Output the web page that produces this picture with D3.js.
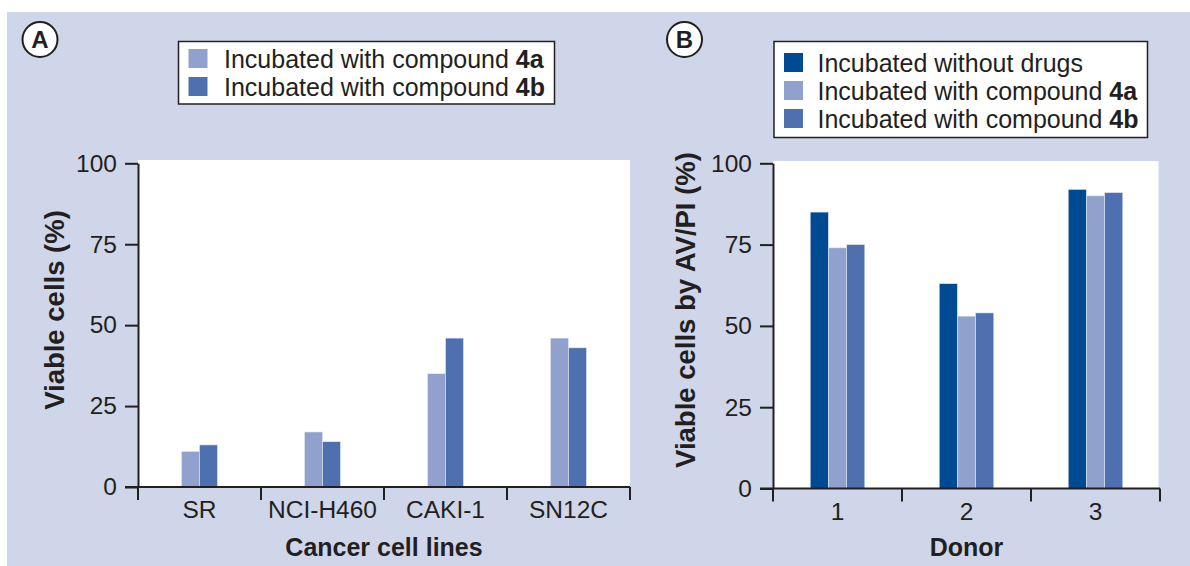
<!DOCTYPE html>
<html>
<head>
<meta charset="utf-8">
<script src="https://cdn.jsdelivr.net/npm/d3@7/dist/d3.min.js"></script>
<style>
  html, body { margin: 0; padding: 0; background: #ffffff; }
  svg { display: block; font-family: "Liberation Sans", Arial, Helvetica, sans-serif; }
</style>
</head>
<body>
<svg id="chart" width="1190" height="566"></svg>
<script>
// ---- Data ----
const cellLines = ["SR", "NCI-H460", "CAKI-1", "SN12C"];
const seriesA = ["4a", "4b"];
const viableA_4a = [11, 17, 35, 46];
const viableA_4b = [13, 14, 46, 43];

const donors = ["1", "2", "3"];
const seriesB = ["none", "4a", "4b"];
const viableB_none = [85, 63, 92];
const viableB_4a = [74, 53, 90];
const viableB_4b = [75, 54, 91];

const yTicks = [0, 25, 50, 75, 100];

const legendA = [
  { key: "4a", prefix: "Incubated with compound ", bold: "4a" },
  { key: "4b", prefix: "Incubated with compound ", bold: "4b" }
];
const legendB = [
  { key: "none", prefix: "Incubated without drugs", bold: "" },
  { key: "4a", prefix: "Incubated with compound ", bold: "4a" },
  { key: "4b", prefix: "Incubated with compound ", bold: "4b" }
];

const colors = { none: "#004a94", "4a": "#8fa1cc", "4b": "#4e70ae" };

// ---- Drawing ----
const svg = d3.select("#chart");
const BG = "#cfd6ea";
const INK = "#231f20";
const FS = 24.5;
const FS_LEG = 25;

svg.append("rect").attr("x", 7).attr("y", 12).attr("width", 1190 - 7).attr("height", 566 - 12).attr("fill", BG);

function panel(opts) {
  const { x0, x1, yBase, yTop, whiteTop, whiteRight, cats, series, values, barW, label, circle, yTitle, xTitle, yTitleX, legend, legendBox } = opts;
  const g = svg.append("g");

  const x = d3.scaleBand().domain(cats).range([x0, x1]).paddingInner(0).paddingOuter(0);
  const bw = x.bandwidth();
  const xs = d3.scaleBand().domain(series).range([bw / 2 - barW * series.length / 2, bw / 2 + barW * series.length / 2]).padding(0);
  const y = d3.scaleLinear().domain([0, 100]).range([yBase, yTop]);

  // white plot area
  g.append("rect").attr("x", x0).attr("y", whiteTop).attr("width", whiteRight - x0).attr("height", yBase - whiteTop).attr("fill", "#ffffff");

  // bars
  const rows = [];
  cats.forEach((c, i) => series.forEach((s, j) => rows.push({ c, s, v: values[j][i] })));
  g.selectAll("rect.bar").data(rows).enter().append("rect")
    .attr("class", "bar")
    .attr("x", d => x(d.c) + xs(d.s) + (opts.groupShift ? opts.groupShift[cats.indexOf(d.c)] : 0))
    .attr("width", xs.bandwidth())
    .attr("y", d => y(d.v))
    .attr("height", d => y(0) - y(d.v))
    .attr("fill", d => colors[d.s])
    .attr("stroke", "#e4e9f4")
    .attr("stroke-width", 0.6);

  // y axis
  const yAxis = d3.axisLeft(y).tickValues(yTicks).tickSize(13).tickPadding(8).tickSizeOuter(0);
  const ya = g.append("g").attr("transform", `translate(${x0},0)`).call(yAxis);
  ya.select(".domain").attr("stroke", INK).attr("stroke-width", 2);
  ya.selectAll(".tick line").attr("stroke", INK).attr("stroke-width", 2);
  ya.selectAll(".tick text").attr("font-size", FS).attr("fill", INK).attr("font-family", "Liberation Sans, Arial, sans-serif");

  // x axis (ticks at band boundaries)
  const xAxisLine = g.append("g");
  xAxisLine.append("line").attr("x1", x0 - 13).attr("x2", x1).attr("y1", yBase).attr("y2", yBase).attr("stroke", INK).attr("stroke-width", 2);
  const bounds = cats.map(c => x(c)).concat([x1]);
  xAxisLine.selectAll("line.bt").data(bounds).enter().append("line")
    .attr("class", "bt")
    .attr("x1", d => d).attr("x2", d => d)
    .attr("y1", yBase).attr("y2", yBase + 13)
    .attr("stroke", INK).attr("stroke-width", 2);
  xAxisLine.selectAll("text.cl").data(cats).enter().append("text")
    .attr("class", "cl")
    .attr("x", d => x(d) + bw / 2)
    .attr("y", yBase + 31)
    .attr("text-anchor", "middle")
    .attr("font-size", FS).attr("fill", INK)
    .text(d => d);

  // titles
  g.append("text").attr("x", (x0 + x1) / 2).attr("y", 556).attr("text-anchor", "middle")
    .attr("font-size", 25).attr("font-weight", "bold").attr("fill", INK).text(xTitle);
  g.append("text").attr("transform", `translate(${yTitleX},310) rotate(-90)`)
    .attr("text-anchor", "middle").attr("font-size", 27.5).attr("font-weight", "bold").attr("fill", INK).text(yTitle);

  // panel label circle
  g.append("circle").attr("cx", circle[0]).attr("cy", circle[1]).attr("r", 17.5)
    .attr("fill", "#ffffff").attr("stroke", INK).attr("stroke-width", 2);
  g.append("text").attr("x", circle[0]).attr("y", circle[1] + 8.5).attr("text-anchor", "middle")
    .attr("font-size", 24).attr("font-weight", "bold").attr("fill", INK).text(label);

  // legend
  const lg = g.append("g");
  lg.append("rect").attr("x", legendBox[0]).attr("y", legendBox[1]).attr("width", legendBox[2]).attr("height", legendBox[3])
    .attr("fill", "#ffffff").attr("stroke", INK).attr("stroke-width", 1.5);
  const items = lg.selectAll("g.li").data(legend).enter().append("g").attr("class", "li")
    .attr("transform", (d, i) => `translate(${legendBox[0] + 10},${legendBox[1] + opts.legendFirst + i * 28})`);
  items.append("rect").attr("x", 0).attr("y", -9.5).attr("width", 19).attr("height", 19).attr("fill", d => colors[d.key]);
  const t = items.append("text").attr("x", opts.legendTextDx).attr("y", 9).attr("font-size", FS_LEG).attr("fill", INK);
  t.append("tspan").text(d => d.prefix);
  t.append("tspan").attr("font-weight", "bold").text(d => d.bold);
}

panel({
  x0: 138, x1: 630, yBase: 487, yTop: 163.3, whiteTop: 160, whiteRight: 630,
  cats: cellLines, series: seriesA, values: [viableA_4a, viableA_4b], barW: 18,
  label: "A", circle: [40, 39.5], yTitle: "Viable cells (%)", xTitle: "Cancer cell lines", yTitleX: 64,
  legend: legendA, legendBox: [178.5, 41.5, 376, 62.5], legendFirst: 17, legendTextDx: 35.5
});

panel({
  x0: 773, x1: 1160, yBase: 488.5, yTop: 163.3, whiteTop: 161, whiteRight: 1158.5,
  cats: donors, series: seriesB, values: [viableB_none, viableB_4a, viableB_4b], barW: 18.2,
  label: "B", circle: [684.5, 39.5], yTitle: "Viable cells by AV/PI (%)", xTitle: "Donor", yTitleX: 695,
  legend: legendB, legendBox: [774, 41.5, 373.5, 96], legendFirst: 21, legendTextDx: 33.5
});
</script>
</body>
</html>
